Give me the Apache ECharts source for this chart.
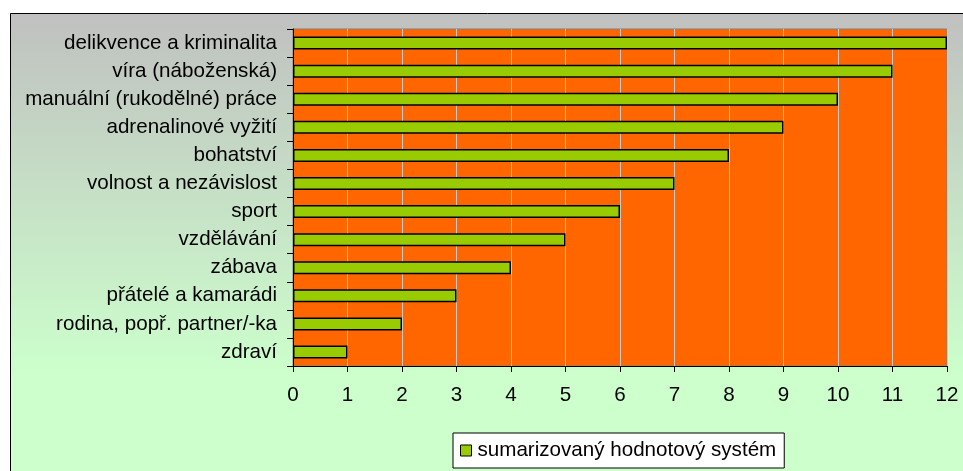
<!DOCTYPE html>
<html lang="cs">
<head>
<meta charset="UTF-8">
<title>sumarizovaný hodnotový systém</title>
<style>
  html, body { margin: 0; padding: 0; background: #fff; }
  #main { width: 963px; height: 471px; }
</style>
</head>
<body>
<div id="main"></div>
<script src="https://cdn.jsdelivr.net/npm/echarts@6/dist/echarts.min.js"></script>
<script>
// data, top to bottom
var categories = ['delikvence a kriminalita', 'víra (náboženská)', 'manuální (rukodělné) práce',
  'adrenalinové vyžití', 'bohatství', 'volnost a nezávislost', 'sport', 'vzdělávání',
  'zábava', 'přátelé a kamarádi', 'rodina, popř. partner/-ka', 'zdraví'];
var values = [12, 11, 10, 9, 8, 7, 6, 5, 4, 3, 2, 1];
var seriesName = 'sumarizovaný hodnotový systém';
var xTicks = [0, 12, 1]; // min, max, interval

var chart = echarts.init(document.getElementById('main'));
var font = 'Liberation Sans, Arial, sans-serif';
var fs = 20.6;

chart.setOption({
  animation: false,
  textStyle: { fontFamily: font },
  graphic: [{
    type: 'rect',
    z: -10,
    shape: { x: 10.5, y: 13.5, width: 970, height: 480 },
    style: {
      fill: new echarts.graphic.LinearGradient(0, 0, 0, 1, [
        { offset: 0, color: '#C0C0C0' },
        { offset: 0.75, color: '#CCFFCC' },
        { offset: 1, color: '#CCFFCC' }
      ]),
      stroke: '#000',
      lineWidth: 1
    }
  }],
  grid: {
    left: 293, top: 29, right: 16, bottom: 105,
    show: true,
    backgroundColor: '#FF6600',
    borderColor: '#808080',
    borderWidth: 1
  },
  legend: {
    left: 453, top: 433,
    data: [{ name: seriesName, icon: 'rect' }],
    backgroundColor: '#fff',
    borderColor: '#000',
    borderWidth: 1,
    padding: [7, 8, 7, 7],
    itemWidth: 11, itemHeight: 11,
    itemGap: 6,
    itemStyle: { borderColor: '#000', borderWidth: 1 },
    textStyle: { fontSize: fs, color: '#000', fontFamily: font, padding: [0, 0, 0, 1] }
  },
  xAxis: {
    type: 'value',
    min: xTicks[0], max: xTicks[1], interval: xTicks[2],
    axisLine: { show: true, lineStyle: { color: '#000' } },
    axisTick: { show: true, length: 6, lineStyle: { color: '#000' } },
    axisLabel: { margin: 19, fontSize: fs, color: '#000', fontFamily: font },
    splitLine: { show: true, lineStyle: { color: '#C8C8C8', width: 1 } }
  },
  yAxis: {
    type: 'category',
    inverse: true,
    data: categories,
    axisLine: { show: true, lineStyle: { color: '#000' } },
    axisTick: { show: true, length: 6, lineStyle: { color: '#000' } },
    axisLabel: { margin: 16, fontSize: fs, color: '#000', fontFamily: font },
    splitLine: { show: false }
  },
  series: [{
    name: seriesName,
    type: 'bar',
    data: values,
    barWidth: 13,
    itemStyle: { color: '#99CC00', borderColor: '#000', borderWidth: 1.5 }
  }]
});
</script>
</body>
</html>
